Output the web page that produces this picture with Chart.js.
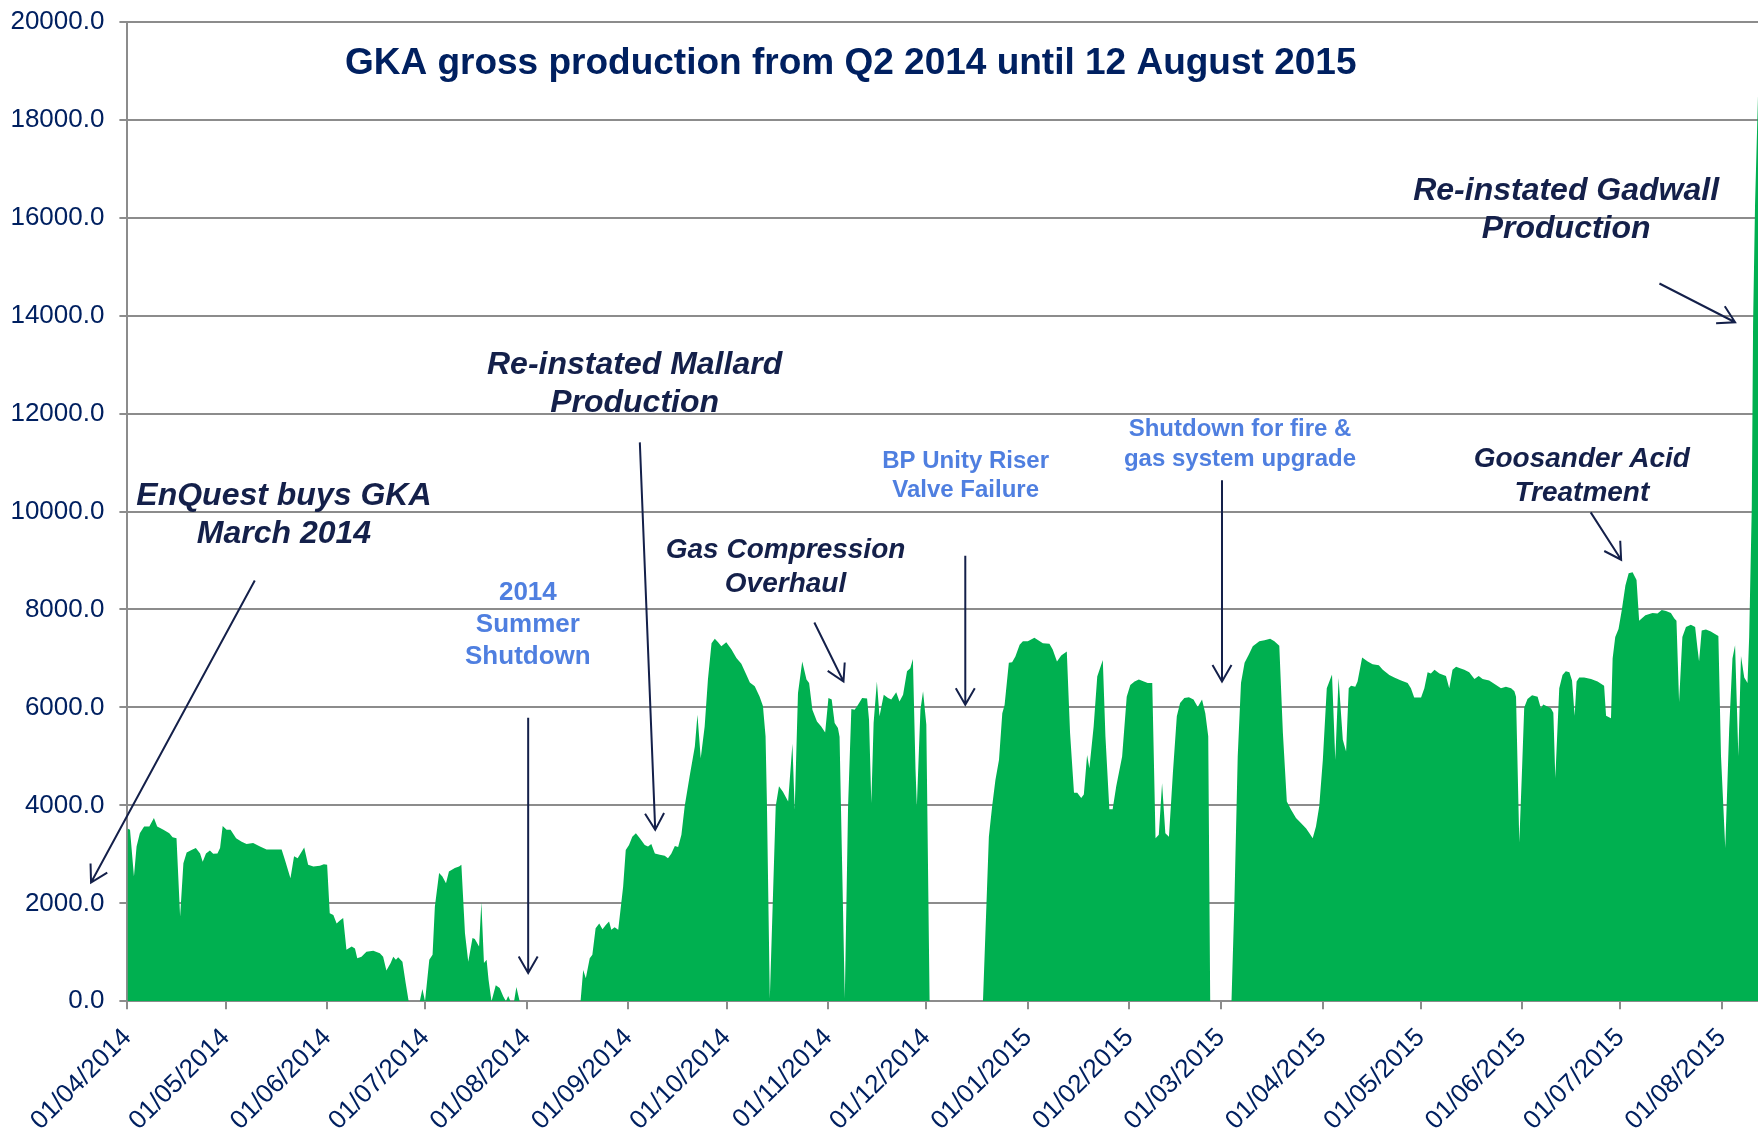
<!DOCTYPE html>
<html>
<head>
<meta charset="utf-8">
<script src="https://cdn.jsdelivr.net/npm/chart.js@4.4.1/dist/chart.umd.min.js"></script>
<style>
  html, body { margin: 0; padding: 0; background: #ffffff; }
  #wrap { width: 1758px; height: 1138px; position: relative; }
</style>
</head>
<body>
<div id="wrap"><canvas id="c" width="1758" height="1138"></canvas></div>
<script>
// ---------- DATA (days since 01/04/2014, gross production) ----------
const monthTickDays = [0, 30, 61, 91, 122, 153, 183, 214, 244, 275, 306, 334, 365, 395, 426, 456, 487];
const monthTickLabels = ['01/04/2014','01/05/2014','01/06/2014','01/07/2014','01/08/2014','01/09/2014',
  '01/10/2014','01/11/2014','01/12/2014','01/01/2015','01/02/2015','01/03/2015','01/04/2015',
  '01/05/2015','01/06/2015','01/07/2015','01/08/2015'];
const yTickValues = [0, 2000, 4000, 6000, 8000, 10000, 12000, 14000, 16000, 18000, 20000];

const dayOffset = [
  // Apr - Jul 2014
  0, 0.8, 2.0, 2.8, 3.8, 5.1, 6.7, 8.1, 9.1, 11.0, 12.8, 13.8, 15.0, 16.1, 17.1, 18.1, 19.9, 20.9, 22.2, 23.0,
  24.0, 25.2, 26.2, 27.5, 28.3, 29.1, 30.3, 31.5, 33.2, 34.9, 36.4, 38.4, 40.5, 42.5, 47.1, 48.1, 49.8, 50.9, 52.0, 54.0,
  55.2, 56.8, 58.8, 60.0, 61.0, 61.8, 62.9, 63.9, 64.9, 65.9, 66.9, 68.5, 69.5, 70.2, 71.5, 73.0, 75.1, 77.1, 78.1, 79.1,
  80.4, 81.2, 82.0, 82.7, 84.0, 85.0, 85.9, 89.3, 90.1, 90.9, 92.2, 93.2, 93.9, 95.2, 96.2, 97.3, 98.2, 100.0, 101.3, 102.0,
  103.1, 104.1, 105.4, 106.1, 107.4, 108.1, 108.9, 109.7, 110.3, 111.2, 112.5, 113.7, 114.8, 115.6, 116.3, 117.0, 118.1, 118.8, 119.8,
  // Aug - Dec 2014
  138.4, 139.2, 140.0, 141.2, 142.0, 143.0, 144.1, 145.1, 146.1, 147.1, 147.8, 148.8, 149.9, 150.6, 151.4, 152.2, 153.2, 154.2, 155.3, 156.5,
  158.0, 159.0, 160.0, 161.1, 162.6, 164.1, 165.1, 166.1, 167.2, 168.2, 169.2, 170.2, 171.7, 173.3, 174.1, 175.1, 176.3, 177.3, 178.4, 179.4,
  180.4, 181.4, 182.9, 184.5, 186.0, 187.5, 189.0, 190.1, 191.6, 193.1, 194.1, 194.9, 195.3, 196.2, 198.0, 199.0, 200.2, 201.8, 203.1, 203.8,
  204.8, 206.1, 207.4, 208.2, 209.2, 210.6, 211.9, 213.1, 214.1, 215.1, 216.0, 217.0, 217.5, 219.1, 220.1, 221.1, 222.1, 223.1, 224.4, 225.9,
  226.5, 227.2, 227.9, 228.9, 229.7, 231.0, 232.3, 233.3, 234.8, 235.8, 236.9, 238.1, 239.1, 239.9, 240.7, 241.1, 242.2, 243.0, 244.0, 245.0,
  // Dec 2014 - Apr 2015
  261.3, 263.1, 264.1, 265.1, 266.2, 267.2, 267.9, 269.2, 270.2, 271.2, 272.5, 273.5, 275.0, 277.0, 279.6, 281.6, 282.6, 283.9, 285.2, 286.9,
  287.9, 289.1, 290.1, 291.3, 292.1, 293.1, 293.8, 295.1, 296.2, 297.9, 298.7, 299.9, 300.9, 302.0, 303.8, 305.2, 306.3, 307.6, 308.9, 311.6,
  313.0, 314.0, 315.0, 316.0, 317.0, 318.1, 319.3, 320.5, 321.5, 322.8, 324.2, 325.6, 326.9, 328.2, 329.2, 330.1, 330.7, 337.2, 338.1, 339.1,
  340.1, 341.2, 342.5, 343.7, 345.7, 347.3, 349.0, 350.3, 351.8, 352.9, 354.1, 355.4, 356.9, 358.4, 360.0, 361.0, 362.0, 363.0, 364.0, 365.1,
  366.3, 367.9, 368.9, 369.9, 371.2, 372.2, 373.0,
  // Apr - Aug 2015
  373.7, 375.0, 375.7, 377.1, 378.8, 380.3, 382.2, 383.4, 385.4, 386.9, 389.0, 391.0, 392.0, 393.0, 395.1, 396.1, 397.1, 398.1, 399.2, 400.7,
  402.7, 403.7, 404.7, 405.8, 407.0, 408.3, 409.8, 411.4, 412.7, 413.9, 415.9, 418.0, 419.5, 421.0, 422.6, 423.6, 424.1, 425.1, 425.9, 426.6,
  427.6, 429.0, 430.7, 431.7, 432.4, 433.7, 434.8, 435.5, 436.1, 437.3, 438.3, 439.3, 440.4, 441.2, 442.0, 442.6, 443.4, 444.9, 447.0, 449.0,
  451.0, 451.6, 453.1, 453.6, 454.4, 455.4, 456.4, 457.5, 458.5, 459.7, 460.9, 461.7, 463.6, 465.8, 467.3, 468.6, 469.9, 471.4, 472.4, 473.1,
  473.9, 474.9, 476.0, 477.5, 478.8, 479.5, 480.0, 480.8, 482.1, 483.6, 484.6, 485.9, 486.7, 488.0, 489.2, 490.2, 491.0, 492.0, 492.8, 493.8,
  494.8, 495.3, 496.1, 496.5, 497.1, 498.0
];

const grossProduction = [
  // Apr - Jul 2014
  3530, 3500, 2550, 3160, 3430, 3570, 3570, 3740, 3570, 3500, 3430, 3350, 3330, 1730, 2820, 3040, 3100, 3130, 3020, 2850,
  3020, 3080, 3010, 3020, 3130, 3580, 3500, 3500, 3330, 3260, 3210, 3230, 3160, 3100, 3100, 2890, 2510, 2960, 2920, 3140,
  2790, 2750, 2770, 2800, 2790, 1800, 1760, 1590, 1650, 1700, 1050, 1120, 1080, 880, 910, 1010, 1030, 980, 910, 630,
  780, 910, 850, 900, 810, 370, 0, 0, 250, 0, 850, 950, 1930, 2620, 2550, 2410, 2650, 2720, 2750, 2790,
  1390, 810, 1290, 1270, 1120, 2020, 780, 850, 440, 0, 330, 270, 100, 0, 110, 0, 0, 290, 0,
  // Aug - Dec 2014
  0, 640, 470, 880, 950, 1490, 1590, 1470, 1560, 1630, 1460, 1510, 1460, 1870, 2340, 3090, 3190, 3360, 3430, 3330,
  3190, 3160, 3210, 3020, 2990, 2970, 2920, 3010, 3170, 3150, 3400, 3980, 4590, 5200, 5850, 4960, 5610, 6570, 7310, 7400,
  7330, 7250, 7330, 7180, 7010, 6890, 6670, 6510, 6430, 6220, 6030, 5410, 4110, 60, 3980, 4390, 4280, 4080, 5260, 3910,
  6290, 6940, 6570, 6500, 5950, 5710, 5610, 5490, 6190, 6160, 5680, 5580, 5400, 60, 3980, 5970, 5950, 6050, 6190, 6180,
  5750, 4050, 5680, 6530, 5820, 6260, 6190, 6160, 6310, 6120, 6260, 6740, 6800, 6990, 4730, 3980, 5950, 6330, 5650, 0,
  // Dec 2014 - Apr 2015
  0, 3360, 3980, 4520, 4930, 5880, 6050, 6910, 6920, 7040, 7280, 7350, 7350, 7420, 7310, 7300, 7180, 6940, 7060, 7140,
  5480, 4260, 4260, 4150, 4220, 5030, 4760, 5610, 6630, 6970, 5410, 3920, 3920, 4390, 5000, 6220, 6460, 6530, 6570, 6500,
  6500, 3330, 3400, 4450, 3430, 3360, 4660, 5820, 6090, 6190, 6210, 6160, 6010, 6160, 5880, 5410, 0, 0, 2070, 5000,
  6500, 6910, 7080, 7250, 7350, 7370, 7400, 7350, 7260, 5480, 4080, 3910, 3740, 3640, 3530, 3430, 3330, 3570, 3980, 4930,
  6390, 6670, 4930, 6600, 5340, 5100, 6390,
  // Apr - Aug 2015
  6440, 6420, 6530, 7020, 6940, 6880, 6860, 6770, 6660, 6610, 6550, 6500, 6390, 6200, 6200, 6390, 6720, 6690, 6770, 6690,
  6640, 6390, 6770, 6830, 6800, 6770, 6720, 6580, 6640, 6580, 6550, 6460, 6390, 6420, 6390, 6330, 6220, 3240, 4670, 6000,
  6170, 6250, 6220, 5980, 6060, 6020, 5980, 5890, 4560, 6390, 6660, 6740, 6720, 6550, 5830, 6530, 6610, 6610, 6580, 6530,
  6440, 5830, 5780, 7000, 7440, 7600, 7990, 8490, 8740, 8760, 8600, 7770, 7880, 7930, 7920, 7990, 7970, 7930, 7820, 7770,
  6110, 7440, 7640, 7690, 7640, 7220, 6940, 7570, 7590, 7550, 7510, 7460, 5010, 3130, 5560, 7000, 7270, 5010, 7050, 6610,
  6500, 7440, 10090, 13850, 16280, 18500
];

const chartTitle = 'GKA gross production from Q2 2014 until 12 August 2015';

// annotation texts (anchored in data units: day offset / production value)
const noteTexts = [
  ['EnQuest buys GKA', 'March 2014'],
  ['2014', 'Summer', 'Shutdown'],
  ['Re-instated Mallard', 'Production'],
  ['Gas Compression', 'Overhaul'],
  ['BP Unity Riser', 'Valve Failure'],
  ['Shutdown for fire &', 'gas system upgrade'],
  ['Goosander Acid', 'Treatment'],
  ['Re-instated Gadwall', 'Production']
];

// ---------- STYLE / LAYOUT ----------
const FONT = '"Liberation Sans", Arial, Helvetica, sans-serif';
const NAVY = '#002060';
const DARK = '#14204a';
const BLUE = '#4f7fe0';
const GREEN = '#00b050';
const GRID = '#8c8c8c';

const noteStyles = [
  { at: [47.8, 9976],   style: 'italic bold', size: 32, color: DARK, lh: 38, arrow: [[38.9, 8590], [-11.1, 2425]] },
  { at: [122.3, 7728],  style: 'bold', size: 26, color: BLUE, lh: 32, arrow: [[122.4, 5788], [122.4, 578]] },
  { at: [154.9, 12652], style: 'italic bold', size: 32, color: DARK, lh: 38, arrow: [[156.5, 11412], [161.2, 3500]] },
  { at: [201.0, 8914],  style: 'italic bold', size: 28, color: DARK, lh: 34, arrow: [[209.8, 7735], [218.7, 6529]] },
  { at: [256.0, 10771], style: 'bold', size: 24, color: BLUE, lh: 29, arrow: [[255.9, 9097], [255.9, 6053]] },
  { at: [339.8, 11411], style: 'bold', size: 24, color: BLUE, lh: 29.5, arrow: [[334.3, 10636], [334.3, 6529]] },
  { at: [444.2, 10766], style: 'italic bold', size: 28, color: DARK, lh: 34.7, arrow: [[446.9, 9982], [456.2, 9016]] },
  { at: [439.4, 16209], style: 'italic bold', size: 32, color: DARK, lh: 38.3, arrow: [[467.9, 14655], [491.0, 13864]] }
];
const titleStyle = { at: [220.9, 19196], style: 'bold', size: 37, color: NAVY };

if (dayOffset.length !== grossProduction.length) {
  console.error('length mismatch', dayOffset.length, grossProduction.length);
}
const points = dayOffset.map((d, i) => ({ x: d, y: grossProduction[i] }));

function drawArrow(ctx, x1, y1, x2, y2) {
  const ang = Math.atan2(y2 - y1, x2 - x1);
  const len = 19, spread = Math.PI / 6;
  ctx.beginPath();
  ctx.moveTo(x1, y1);
  ctx.lineTo(x2, y2);
  ctx.moveTo(x2 - len * Math.cos(ang - spread), y2 - len * Math.sin(ang - spread));
  ctx.lineTo(x2, y2);
  ctx.lineTo(x2 - len * Math.cos(ang + spread), y2 - len * Math.sin(ang + spread));
  ctx.stroke();
}

// draw a line of text so that the capital letters are centred on cy
function capCentredText(ctx, text, cx, cy, size) {
  ctx.fillText(text, cx, cy + 0.358 * size);
}

const notesPlugin = {
  id: 'notes',
  afterDraw(chart) {
    const { ctx } = chart;
    const xs = chart.scales.x, ys = chart.scales.y;
    ctx.save();
    ctx.textAlign = 'center';
    ctx.textBaseline = 'alphabetic';
    // title
    ctx.font = titleStyle.style + ' ' + titleStyle.size + 'px ' + FONT;
    ctx.fillStyle = titleStyle.color;
    capCentredText(ctx, chartTitle, xs.getPixelForValue(titleStyle.at[0]), ys.getPixelForValue(titleStyle.at[1]), titleStyle.size);
    noteTexts.forEach((lines, k) => {
      const st = noteStyles[k];
      const cx = xs.getPixelForValue(st.at[0]);
      const cy = ys.getPixelForValue(st.at[1]);
      ctx.font = st.style + ' ' + st.size + 'px ' + FONT;
      ctx.fillStyle = st.color;
      const n = lines.length;
      lines.forEach((t, i) => capCentredText(ctx, t, cx, cy + (i - (n - 1) / 2) * st.lh, st.size));
      if (st.arrow) {
        ctx.strokeStyle = DARK;
        ctx.lineWidth = 2;
        const [a, b] = st.arrow;
        drawArrow(ctx, xs.getPixelForValue(a[0]), ys.getPixelForValue(a[1]),
                       xs.getPixelForValue(b[0]), ys.getPixelForValue(b[1]));
      }
    });
    ctx.restore();
  }
};

new Chart(document.getElementById('c').getContext('2d'), {
  type: 'line',
  data: {
    datasets: [{
      label: 'GKA gross production',
      data: points,
      parsing: false,
      fill: 'origin',
      backgroundColor: GREEN,
      borderColor: 'rgba(0,0,0,0)',
      borderWidth: 0,
      pointRadius: 0,
      pointHoverRadius: 0,
      tension: 0
    }]
  },
  options: {
    responsive: false,
    animation: false,
    devicePixelRatio: 1,
    layout: { padding: { top: 21.7, right: 0, left: 0, bottom: 0 } },
    plugins: { legend: { display: false }, tooltip: { enabled: false }, title: { display: false } },
    scales: {
      x: {
        type: 'linear',
        min: 0,
        max: 498,
        afterBuildTicks: (s) => { s.ticks = monthTickDays.map(v => ({ value: v })); },
        afterFit: (s) => { s.height = 136.7; s.paddingLeft = 0; s.paddingRight = 0; },
        ticks: {
          autoSkip: false,
          maxRotation: 45,
          minRotation: 45,
          padding: 13,
          color: NAVY,
          font: { family: FONT, size: 26 },
          callback: (v, i) => monthTickLabels[i]
        },
        grid: { drawOnChartArea: false, drawTicks: true, tickLength: 8, color: GRID, lineWidth: 2 },
        border: { display: true, color: GRID, width: 2 }
      },
      y: {
        type: 'linear',
        min: 0,
        max: 20000,
        afterBuildTicks: (s) => { s.ticks = yTickValues.map(v => ({ value: v })); },
        afterFit: (s) => { s.width = 127.4; s.paddingTop = 0; s.paddingBottom = 0; },
        ticks: {
          padding: 15,
          color: NAVY,
          font: { family: FONT, size: 26 },
          callback: (v) => Number(v).toFixed(1)
        },
        grid: { drawOnChartArea: true, drawTicks: true, tickLength: 8, color: GRID, lineWidth: 2 },
        border: { display: true, color: GRID, width: 2 }
      }
    }
  },
  plugins: [notesPlugin]
});
</script>
</body>
</html>
